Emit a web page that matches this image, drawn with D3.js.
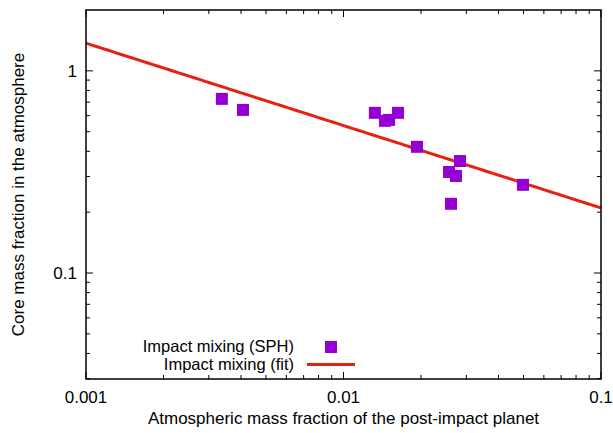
<!DOCTYPE html>
<html><head><meta charset="utf-8">
<script src="https://cdn.jsdelivr.net/npm/d3@7"></script>
<style>body{margin:0;background:#fff}svg{display:block}text{font-family:"Liberation Sans",Arial,sans-serif;fill:#000}</style>
</head><body><svg id="c" width="613" height="433"></svg>
<script>
const sphX = [0.00337,0.00407,0.01324,0.01449,0.01503,0.01628,0.01929,0.02834,0.02569,0.02734,0.02615,0.04977];
const sphY = [0.727,0.641,0.620,0.566,0.572,0.620,0.421,0.358,0.316,0.302,0.220,0.273];
const fitA = 0.0821, fitB = -0.4075;
const xTicks = [0.001,0.01,0.1];
const xTickLabels = ["0.001","0.01","0.1"];
const yTicks = [0.1,1];
const yTickLabels = ["0.1","1"];
const xTitle = "Atmospheric mass fraction of the post-impact planet";
const yTitle = "Core mass fraction in the atmosphere";
const legendLabels = ["Impact mixing (SPH)","Impact mixing (fit)"];

const svg = d3.select("#c");
const L=86,R=601,T=10,B=379;
const FS=17, LFS=16.5;
const x = d3.scaleLog().domain([0.001,0.1]).range([L,R]);
const y = d3.scaleLog().domain([0.0299,2.0]).range([B,T]);

// minor ticks
const xMinor=[];for(let d=0.001;d<0.1-1e-9;d*=10)for(let k=2;k<=9;k++)xMinor.push(d*k);
const yMinor=[];for(let d=0.01;d<2;d*=10)for(let k=2;k<=9;k++){const v=d*k;if(v>0.0299&&v<2)yMinor.push(v);}
const g=svg.append("g").attr("stroke","#000").attr("stroke-width",1);
xMinor.forEach(v=>{g.append("line").attr("x1",x(v)).attr("x2",x(v)).attr("y1",B).attr("y2",B-4);g.append("line").attr("x1",x(v)).attr("x2",x(v)).attr("y1",T).attr("y2",T+4);});
xTicks.forEach(v=>{g.append("line").attr("x1",x(v)).attr("x2",x(v)).attr("y1",B).attr("y2",B-7);g.append("line").attr("x1",x(v)).attr("x2",x(v)).attr("y1",T).attr("y2",T+7);});
yMinor.forEach(v=>{g.append("line").attr("y1",y(v)).attr("y2",y(v)).attr("x1",L).attr("x2",L+4);g.append("line").attr("y1",y(v)).attr("y2",y(v)).attr("x1",R).attr("x2",R-4);});
yTicks.forEach(v=>{g.append("line").attr("y1",y(v)).attr("y2",y(v)).attr("x1",L).attr("x2",L+7);g.append("line").attr("y1",y(v)).attr("y2",y(v)).attr("x1",R).attr("x2",R-7);});

// fit line
const fx=d3.range(0,101).map(i=>Math.pow(10,-3+2*i/100));
svg.append("path").datum(fx).attr("fill","none").attr("stroke","#e8200f").attr("stroke-width",3)
  .attr("d",d3.line().x(d=>x(d)).y(d=>y(fitA*Math.pow(d,fitB))));

// points
const s=12;
svg.append("g").selectAll("rect").data(sphX.map((v,i)=>[v,sphY[i]])).join("rect")
  .attr("x",d=>x(d[0])-s/2).attr("y",d=>y(d[1])-s/2).attr("width",s).attr("height",s).attr("fill","#9400d3");

// frame
svg.append("rect").attr("x",L).attr("y",T).attr("width",R-L).attr("height",B-T).attr("fill","none").attr("stroke","#000").attr("stroke-width",1.5);

// tick labels
xTicks.forEach((v,i)=>svg.append("text").attr("x",x(v)).attr("y",403).attr("text-anchor","middle").attr("font-size",FS).text(xTickLabels[i]));
yTicks.forEach((v,i)=>svg.append("text").attr("x",L-9).attr("y",y(v)+6).attr("text-anchor","end").attr("font-size",FS).text(yTickLabels[i]));
svg.append("text").attr("x",(L+R)/2).attr("y",424).attr("text-anchor","middle").attr("font-size",FS).text(xTitle);
svg.append("text").attr("transform","translate(24,"+((T+B)/2)+") rotate(-90)").attr("text-anchor","middle").attr("font-size",FS).text(yTitle);

// legend
svg.append("text").attr("x",294).attr("y",351.5).attr("text-anchor","end").attr("font-size",LFS).text(legendLabels[0]);
svg.append("rect").attr("x",331-s/2).attr("y",347-s/2).attr("width",s).attr("height",s).attr("fill","#9400d3");
svg.append("text").attr("x",294).attr("y",370).attr("text-anchor","end").attr("font-size",LFS).text(legendLabels[1]);
svg.append("line").attr("x1",307).attr("x2",355).attr("y1",364.5).attr("y2",364.5).attr("stroke","#e8200f").attr("stroke-width",3);
</script></body></html>
